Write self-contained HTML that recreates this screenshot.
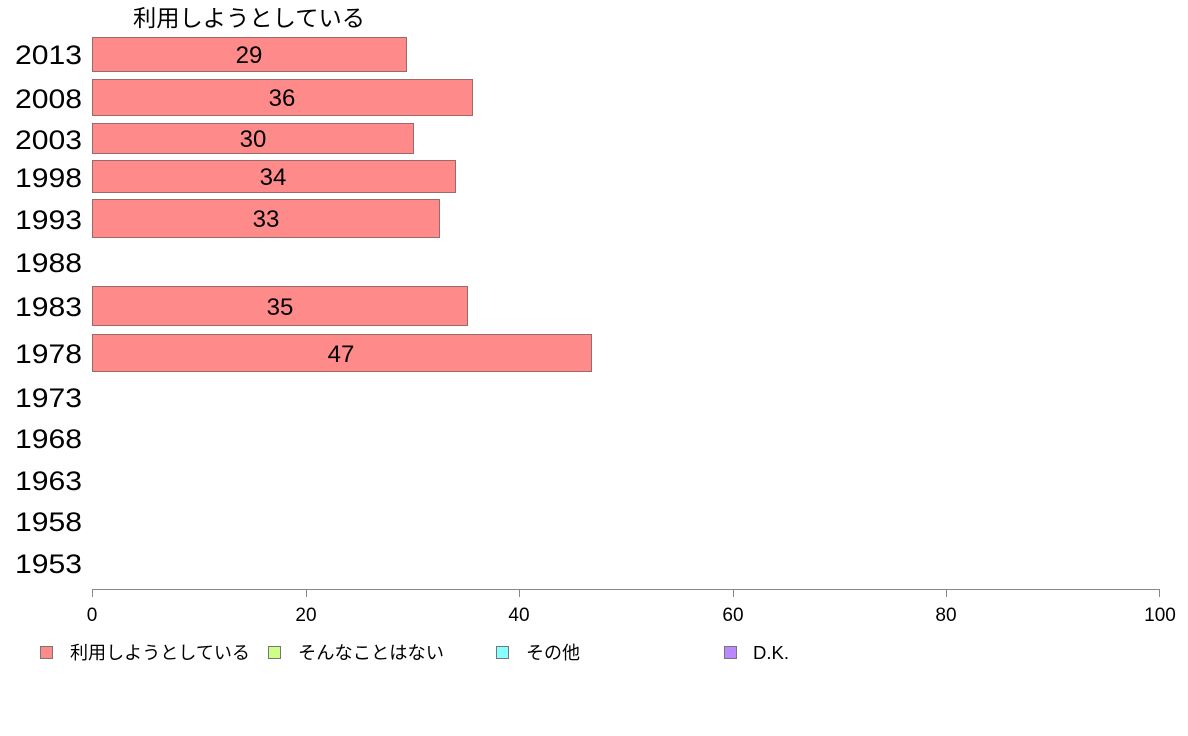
<!DOCTYPE html>
<html><head><meta charset="utf-8"><style>
html,body{margin:0;padding:0;background:#fff;}
svg{display:block;}
text{font-family:"Liberation Sans","Noto Sans CJK JP",sans-serif;fill:#000;}
</style></head><body>
<svg width="1188" height="736" viewBox="0 0 1188 736" xmlns="http://www.w3.org/2000/svg">
<text x="133" y="26" font-size="23" textLength="232" lengthAdjust="spacingAndGlyphs">利用しようとしている</text>
<g font-size="27" text-anchor="end">
<text x="82" y="64" textLength="67" lengthAdjust="spacingAndGlyphs">2013</text>
<text x="82" y="108" textLength="67" lengthAdjust="spacingAndGlyphs">2008</text>
<text x="82" y="149" textLength="67" lengthAdjust="spacingAndGlyphs">2003</text>
<text x="82" y="187" textLength="67" lengthAdjust="spacingAndGlyphs">1998</text>
<text x="82" y="229" textLength="67" lengthAdjust="spacingAndGlyphs">1993</text>
<text x="82" y="272" textLength="67" lengthAdjust="spacingAndGlyphs">1988</text>
<text x="82" y="316" textLength="67" lengthAdjust="spacingAndGlyphs">1983</text>
<text x="82" y="363" textLength="67" lengthAdjust="spacingAndGlyphs">1978</text>
<text x="82" y="407" textLength="67" lengthAdjust="spacingAndGlyphs">1973</text>
<text x="82" y="448" textLength="67" lengthAdjust="spacingAndGlyphs">1968</text>
<text x="82" y="490" textLength="67" lengthAdjust="spacingAndGlyphs">1963</text>
<text x="82" y="531" textLength="67" lengthAdjust="spacingAndGlyphs">1958</text>
<text x="82" y="573" textLength="67" lengthAdjust="spacingAndGlyphs">1953</text>
</g>
<g fill="#ff8a8a" stroke="#9a6a6a" stroke-width="1">
<rect x="92.5" y="37.5" width="314" height="34"/>
<rect x="92.5" y="79.5" width="380" height="36"/>
<rect x="92.5" y="123.5" width="321" height="30"/>
<rect x="92.5" y="160.5" width="363" height="32"/>
<rect x="92.5" y="199.5" width="347" height="38"/>
<rect x="92.5" y="286.5" width="375" height="39"/>
<rect x="92.5" y="334.5" width="499" height="37"/>
</g>
<g font-size="24" text-anchor="middle">
<text x="249" y="63">29</text>
<text x="282" y="106">36</text>
<text x="253" y="147">30</text>
<text x="273" y="185">34</text>
<text x="266" y="227">33</text>
<text x="280" y="315">35</text>
<text x="341" y="362">47</text>
</g>
<g stroke="#888" stroke-width="1">
<line x1="92" y1="589.5" x2="1160" y2="589.5"/>
<line x1="92.5" y1="589" x2="92.5" y2="597"/>
<line x1="306.5" y1="589" x2="306.5" y2="597"/>
<line x1="519.5" y1="589" x2="519.5" y2="597"/>
<line x1="733.5" y1="589" x2="733.5" y2="597"/>
<line x1="946.5" y1="589" x2="946.5" y2="597"/>
<line x1="1159.5" y1="589" x2="1159.5" y2="597"/>
</g>
<g font-size="19" text-anchor="middle">
<text x="92" y="621">0</text>
<text x="306" y="621">20</text>
<text x="519" y="621">40</text>
<text x="733" y="621">60</text>
<text x="946" y="621">80</text>
<text x="1160" y="621">100</text>
</g>
<g stroke="#777" stroke-width="1">
<rect x="40.5" y="646.5" width="12" height="12" fill="#ff8a8a"/>
<rect x="268.5" y="646.5" width="12" height="12" fill="#ccff88"/>
<rect x="496.5" y="646.5" width="12" height="12" fill="#88ffff"/>
<rect x="724.5" y="646.5" width="12" height="12" fill="#bb88ff"/>
</g>
<g font-size="18">
<text x="70" y="659" textLength="180" lengthAdjust="spacingAndGlyphs">利用しようとしている</text>
<text x="298" y="659" textLength="146" lengthAdjust="spacingAndGlyphs">そんなことはない</text>
<text x="526" y="659" textLength="54" lengthAdjust="spacingAndGlyphs">その他</text>
<text x="753" y="659" textLength="36" lengthAdjust="spacingAndGlyphs">D.K.</text>
</g>
</svg>
</body></html>
